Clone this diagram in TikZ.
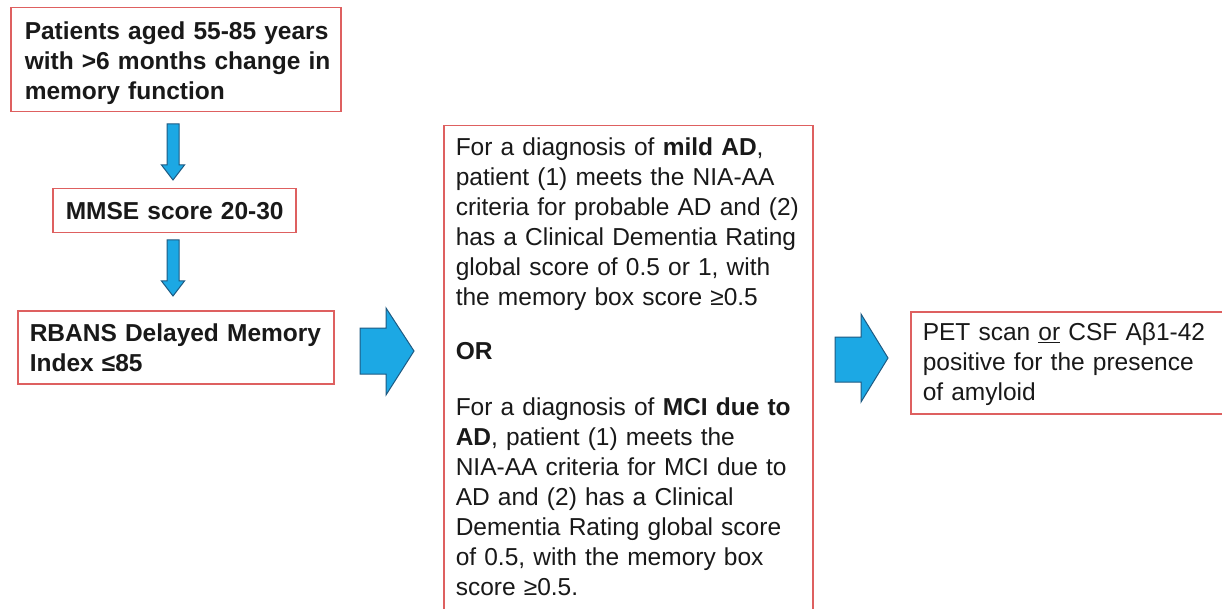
\documentclass[tikz,border=0pt]{standalone}
\usepackage{fontspec}
\setmainfont{Liberation Sans}
\definecolor{boxred}{RGB}{222,96,96}
\definecolor{arrowfill}{RGB}{28,168,228}
\definecolor{arrowline}{RGB}{30,90,130}
\definecolor{txt}{RGB}{25,25,25}
\tikzset{
  redbox/.style={draw=boxred, line width=1.5pt, text=txt, align=left,
    anchor=north west, text height=18pt,
    font=\fontsize{24.5}{30}\selectfont},
  boldbox/.style={redbox, font=\fontsize{24.5}{30}\selectfont\bfseries},
  blockarrow/.style={fill=arrowfill, draw=arrowline, line width=1pt, line join=miter},
}
\begin{document}
\begin{tikzpicture}[x=1pt,y=-1pt]
\fill[white] (0,0) rectangle (1222,609);
\useasboundingbox (0,0) rectangle (1222,609);

\node[boldbox, inner xsep=14pt, inner ysep=14pt, text width=302pt, text depth=58pt] (b1) at (10,7)
  {\mbox{Patients aged 55-85 years}\\\mbox{with >6 months change in}\\memory function};
\node[boldbox, inner xsep=13pt, inner ysep=13pt, text width=217pt, text depth=0pt] (b2) at (52,188)
  {\mbox{MMSE score 20-30}};
\node[boldbox, inner xsep=12pt, inner ysep=13pt, text width=292pt, text depth=29pt] (b3) at (17,310)
  {\mbox{RBANS Delayed Memory}\\Index ≤85};

\node[redbox, inner xsep=12pt, inner ysep=12pt, text width=345pt, text depth=473pt] (mid) at (443,125)
  {\mbox{For a diagnosis of \textbf{mild AD},}\\
   \mbox{patient (1) meets the NIA-AA}\\
   \mbox{criteria for probable AD and (2)}\\
   \mbox{has a Clinical Dementia Rating}\\
   \mbox{global score of 0.5 or 1, with}\\
   \mbox{the memory box score ≥0.5}\\[24pt]
   \textbf{OR}\\[26pt]
   \mbox{For a diagnosis of \textbf{MCI due to}}\\
   \mbox{\textbf{AD}, patient (1) meets the}\\
   \mbox{NIA-AA criteria for MCI due to}\\
   \mbox{AD and (2) has a Clinical}\\
   \mbox{Dementia Rating global score}\\
   \mbox{of 0.5, with the memory box}\\
   \mbox{score ≥0.5.}};

\node[redbox, inner xsep=12pt, inner ysep=11pt, text width=306pt, text depth=62pt] (res) at (910,311)
  {\mbox{PET scan \underline{or} CSF Aβ1-42}\\\mbox{positive for the presence}\\of amyloid};

% small down arrows
\draw[blockarrow] (167,124) -- (179,124) -- (179,165) -- (184.5,165) -- (173,180) -- (161.5,165) -- (167,165) -- cycle;
\draw[blockarrow] (167,240) -- (179,240) -- (179,281) -- (184.5,281) -- (173,296) -- (161.5,281) -- (167,281) -- cycle;
% big right arrows
\draw[blockarrow] (360,328) -- (386,328) -- (386,308) -- (414,351) -- (386,395) -- (386,374) -- (360,374) -- cycle;
\draw[blockarrow] (835,337) -- (861,337) -- (861,314) -- (888,358) -- (861,402) -- (861,382) -- (835,382) -- cycle;
\end{tikzpicture}
\end{document}
